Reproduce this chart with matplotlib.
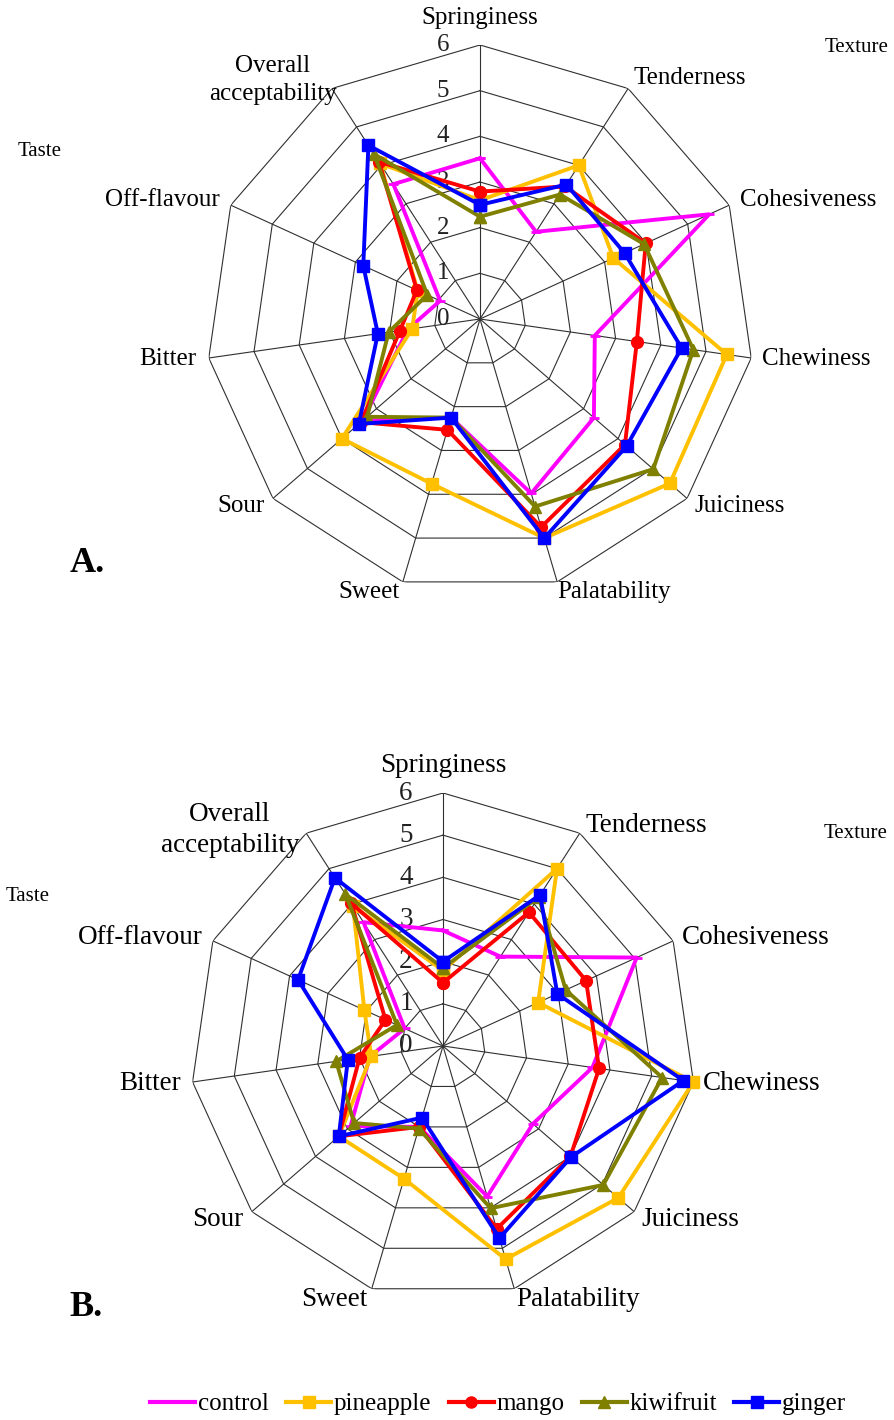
import numpy as np
import matplotlib
matplotlib.use("Agg")
import matplotlib.pyplot as plt
from matplotlib.lines import Line2D

categories = ["Springiness", "Tenderness", "Cohesiveness", "Chewiness", "Juiciness",
              "Palatability", "Sweet", "Sour", "Bitter", "Off-flavour", "Overall\nacceptability"]
series_names = ["control", "pineapple", "mango", "kiwifruit", "ginger"]
tick_values = [0, 1, 2, 3, 4, 5, 6]

# Panel A
control_A = [3.52, 2.27, 5.52, 2.54, 3.30, 3.98, 2.25, 3.40, 1.60, 0.96, 3.51]
pineapple_A = [2.60, 4.00, 3.21, 5.46, 5.50, 5.00, 3.76, 4.00, 1.50, 1.50, 4.05]
mango_A = [2.79, 3.45, 3.99, 3.47, 4.20, 4.75, 2.53, 3.45, 1.77, 1.52, 4.09]
kiwifruit_A = [2.24, 3.24, 3.95, 4.72, 5.02, 4.28, 2.25, 3.27, 2.02, 1.27, 4.29]
ginger_A = [2.50, 3.50, 3.48, 4.46, 4.25, 5.00, 2.25, 3.51, 2.26, 2.81, 4.52]

# Panel B
control_B = [2.74, 2.52, 5.05, 3.58, 2.82, 3.72, 2.00, 2.90, 1.75, 1.00, 3.49]
pineapple_B = [1.79, 5.00, 2.48, 6.00, 5.50, 5.27, 3.28, 3.27, 1.72, 2.05, 3.95]
mango_B = [1.50, 3.77, 3.73, 3.74, 4.00, 4.52, 2.00, 3.27, 2.00, 1.50, 4.02]
kiwifruit_B = [1.85, 4.20, 3.20, 5.25, 5.03, 4.01, 2.04, 2.79, 2.56, 1.20, 4.28]
ginger_B = [2.00, 4.26, 2.98, 5.76, 4.02, 4.75, 1.77, 3.27, 2.28, 3.78, 4.74]

colors = ["#FF00FF", "#FFC000", "#FF0000", "#808000", "#0000FF"]
markers = ["_", "s", "o", "^", "s"]
msizes = [7, 9, 8.5, 9, 9]

W, H = 895, 1420
fig = plt.figure(figsize=(W / 100, H / 100), dpi=100)
plt.rcParams["font.family"] = ["Liberation Serif", "DejaVu Serif"]

def px(x, y):
    return x / W, 1 - y / H

def radar(cx, cy, R, data, labels_pos, fs, tex_pos, taste_pos, letter, letter_pos):
    ax = fig.add_axes([(cx - R) / W, 1 - (cy + R) / H, 2 * R / W, 2 * R / H], projection="polar")
    ax.set_theta_offset(np.pi / 2)
    ax.set_theta_direction(-1)
    ax.set_ylim(0, 6)
    ax.grid(False)
    ax.spines["polar"].set_visible(False)
    ax.set_xticks([])
    ax.set_yticks([])
    ax.patch.set_alpha(0)
    n = len(categories)
    ang = np.arange(n) * 2 * np.pi / n
    angc = np.append(ang, ang[0])
    for r in tick_values[1:]:
        ax.plot(angc, [r] * (n + 1), color="#303030", lw=0.8, zorder=1)
    for a in ang:
        ax.plot([a, a], [0, 6], color="#303030", lw=0.8, zorder=1)
    for v in tick_values:
        ax.annotate(str(v), xy=(0, v), xytext=(-37, 0), textcoords="offset pixels",
                    ha="center", va="center", fontsize=fs, color="#222222")
    for i, vals in enumerate(data):
        vv = np.append(vals, vals[0])
        ax.plot(angc, vv, color=colors[i], lw=2.8, marker=markers[i], ms=msizes[i],
                mew=2 if markers[i] == "_" else 1, zorder=3 + i, clip_on=False)
    for lab, (x, y) in zip(categories, labels_pos):
        fig.text(*px(x, y), lab, ha="center", va="center", fontsize=fs, linespacing=1.3)
    fig.text(*px(*tex_pos), "Texture", ha="center", va="center", fontsize=15)
    fig.text(*px(*taste_pos), "Taste", ha="center", va="center", fontsize=15)
    fig.text(*px(*letter_pos), letter, ha="center", va="center", fontsize=26, fontweight="bold")
    return ax

labA = [(480, 18), (690, 78), (808, 200), (816, 359), (740, 506), (614, 592),
        (369, 592), (241, 506), (168, 359), (162, 200), (273, 80)]
radar(480, 319, 274, [control_A, pineapple_A, mango_A, kiwifruit_A, ginger_A], labA, 18,
      (857, 47), (40, 151), "A.", (87, 563))

labB = [(443, 766), (646, 825), (756, 937), (762, 1084), (690, 1219), (578, 1299),
        (334, 1299), (218, 1219), (150, 1084), (140, 937), (230, 830)]
radar(443, 1046, 253, [control_B, pineapple_B, mango_B, kiwifruit_B, ginger_B], labB, 19.5,
      (856, 833), (28, 896), "B.", (86, 1308))

handles = [Line2D([0], [0], color=colors[i], lw=3, marker=(None if i == 0 else markers[i]), ms=8)
           for i in range(5)]
fig.legend(handles, series_names, loc="center", bbox_to_anchor=(px(498, 1404)), ncol=5,
           frameon=False, fontsize=18, handlelength=1.8, handletextpad=0.1, columnspacing=0.7)

fig.savefig("out.png", dpi=100)
